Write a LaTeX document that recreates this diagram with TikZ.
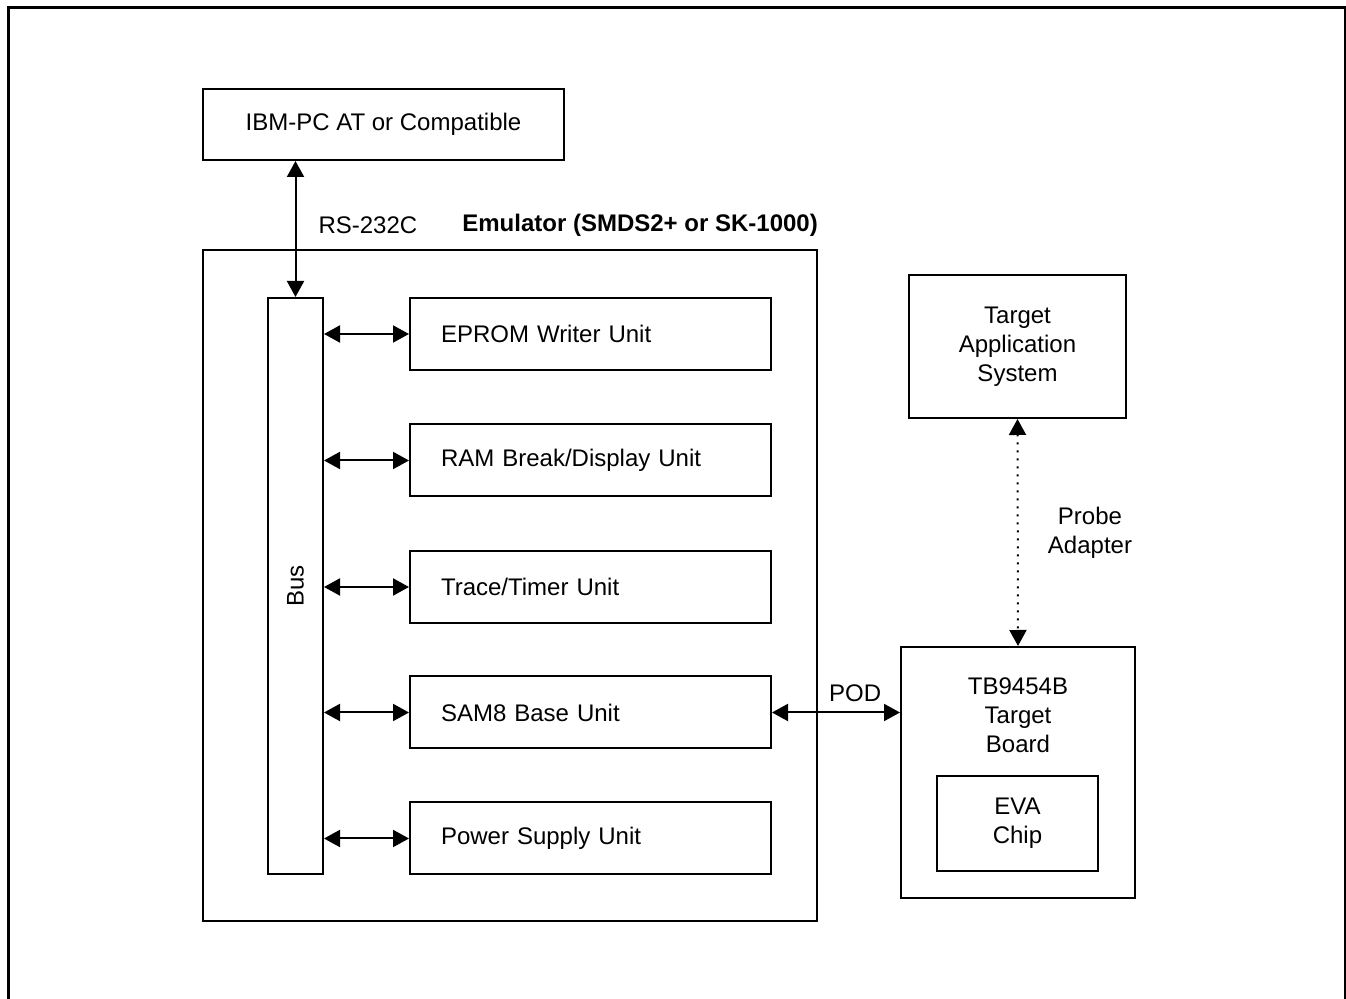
\documentclass[tikz,border=0pt]{standalone}
\usepackage{fontspec}
\setmainfont{Liberation Sans}
\usepackage{tikz}
\usetikzlibrary{arrows.meta, positioning}

\begin{document}
\begin{tikzpicture}[
    x=0.5pt, y=-0.5pt,
    every node/.style = {font=\fontsize{12}{14.5}\selectfont},
    box/.style  = {draw, rectangle, line width=1pt, inner sep=0pt,
                   align=center},
    unit/.style = {box, minimum width=180.5pt, minimum height=36pt,
                   text width=149.5pt, inner xsep=15.5pt, align=left},
    arr/.style  = {{Triangle[length=8pt, width=8.5pt]}-{Triangle[length=8pt, width=8.5pt]},
                   line width=1pt},
    note/.style = {inner sep=1pt, align=center}
  ]
    \clip (0,0) rectangle (1346,999);
    \draw[line width=1.5pt] (8,1020) -- (8,8) -- (1345,8) -- (1345,1020);

    \node[box, minimum width=180.5pt, minimum height=35.5pt] (ibm) at (383.5, 124.5)
          {\raisebox{-1.5pt}{IBM-PC AT or Compatible}};
    \node[box, minimum width=307pt, minimum height=335.5pt]  (emu) at (510, 585.5) {};
    \node[note, anchor=west] (emulabel) at (460, 225)
          {\bfseries Emulator (SMDS2+ or SK-1000)};

    \node[box, minimum width=27.5pt, minimum height=288pt] (bus) at (295.5, 586)
          {\rotatebox{90}{Bus}};

    \node[unit] (eprom) at (590.5, 334)   {EPROM Writer Unit};
    \node[unit] (ram)   at (590.5, 460.5) {RAM Break/Display Unit};
    \node[unit] (trace) at (590.5, 587)   {Trace/Timer Unit};
    \node[unit] (sam)   at (590.5, 712.5) {SAM8 Base Unit};
    \node[unit] (power) at (590.5, 838.5) {Power Supply Unit};

    \node[box, minimum width=108.5pt, minimum height=71.5pt] (app) at (1017.5, 346.5)
          {Target\\Application\\System};
    \node[box, minimum width=117pt, minimum height=125.5pt] (board) at (1018, 772.5) {};
    \node[note] (boardtext) at (1018, 715) {TB9454B\\Target\\Board};
    \node[box, minimum width=80.5pt, minimum height=47.5pt] (eva) at (1017.5, 823.5)
          {EVA\\Chip};

    \draw[arr] (bus.north) -- (bus.north |- ibm.south)
          node[note, anchor=west, pos=0.53, xshift=10pt] (rslabel) {RS-232C};
    \foreach \u in {eprom, ram, trace, sam, power}
      \draw[arr] (bus.east |- \u.west) -- (\u.west);

    \draw[arr] (sam.east) -- (board.west |- sam.east)
          node[note, pos=0.65, above=4pt] (podlabel) {POD};
    \draw[arr, dash pattern=on 1pt off 3pt] (app.south) -- (board.north);
    \node[note] (probelabel) at (1090, 533) {Probe\\Adapter};
  \end{tikzpicture}
\end{document}
